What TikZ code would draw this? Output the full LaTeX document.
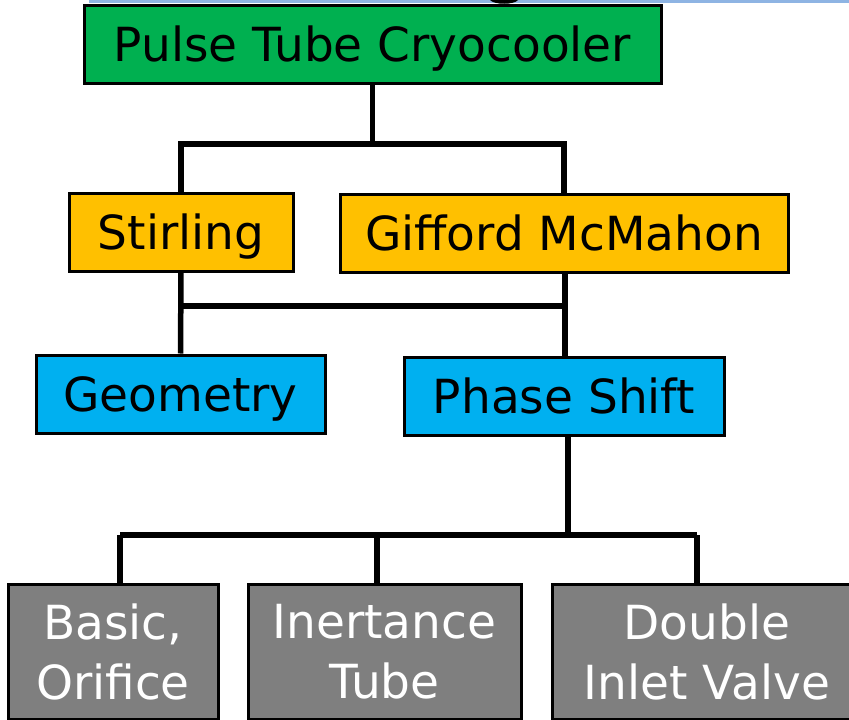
\documentclass[tikz,border=0pt]{standalone}
\usepackage{fontspec}
\setmainfont{DejaVu Sans}
\usetikzlibrary{calc}
\definecolor{ptgreen}{HTML}{00B050}
\definecolor{ptorange}{HTML}{FFC000}
\definecolor{ptblue}{HTML}{00B0F0}
\definecolor{ptgray}{HTML}{7F7F7F}
\definecolor{topblue}{HTML}{8EB4E3}
\tikzset{
  box/.style={draw=black, line width=3pt, rectangle, inner sep=0pt, minimum height=78pt,
    font=\fontsize{47}{60}\selectfont, text height=34pt, text depth=0pt},
  leafbox/.style={draw=black, line width=3pt, rectangle, inner sep=0pt, minimum height=135pt,
    fill=ptgray, text=white, align=center, font=\fontsize{47}{60}\selectfont},
  link/.style={draw=black, line width=5.5pt}
}
\begin{document}
\begin{tikzpicture}[x=1pt,y=-1pt]
\useasboundingbox (0,0) rectangle (849,720);
\clip (0,0) rectangle (849,720);
\fill[white] (0,0) rectangle (849,720);
% cut-off title remnants
\fill[topblue] (89,0) rectangle (849,2.5);
\fill[black] (490,0) .. controls (494,5) and (514,5) .. (518,0) -- cycle;

\node[box, fill=ptgreen, minimum width=577pt] (ptc) at (372.5,44) {Pulse Tube Cryocooler};
\node[box, fill=ptorange, minimum width=224pt] (stir) at (181,232) {Stirling};
\node[box, fill=ptorange, minimum width=448pt] (gif) at (564,233) {Gifford McMahon};
\node[box, fill=ptblue, minimum width=289pt] (geo) at (180.5,394) {Geometry};
\node[box, fill=ptblue, minimum width=320pt] (ps) at (564,396) {Phase Shift};
\node[leafbox, minimum width=210pt] (basic) at (113,651.5) {Basic,\\Orifice};
\node[leafbox, minimum width=273pt] (iner) at (384.5,652) {Inertance\\Tube};
\node[leafbox, minimum width=310pt] (dbl) at (707,651.5) {Double\\Inlet Valve};

% level 1
\coordinate (j1) at (372.5,144);
\draw[link] (ptc.south) -- (j1);
\draw[link] (j1) -| (stir.north);
\draw[link] (j1) -| (gif.north);
% level 2
\coordinate (m1) at (181,306);
\coordinate (m2) at (565,306);
\draw[link] (stir.south) -- (geo.north);
\draw[link] ($(gif.south)+(1,0)$) -- ($(ps.north)+(1,0)$);
\draw[link] (m1) -- (m2);
% level 3
\coordinate (j3) at (568,535);
\coordinate (bl) at (120,535);
\coordinate (br) at (697,535);
\draw[link] ($(ps.south)+(4,0)$) -- (j3);
\draw[link] (bl) -- (br);
\draw[link] (bl) -- (bl |- basic.north);
\draw[link] (377,535) -- (377,0 |- iner.north);
\draw[link] (br) -- (br |- dbl.north);
\end{tikzpicture}
\end{document}
